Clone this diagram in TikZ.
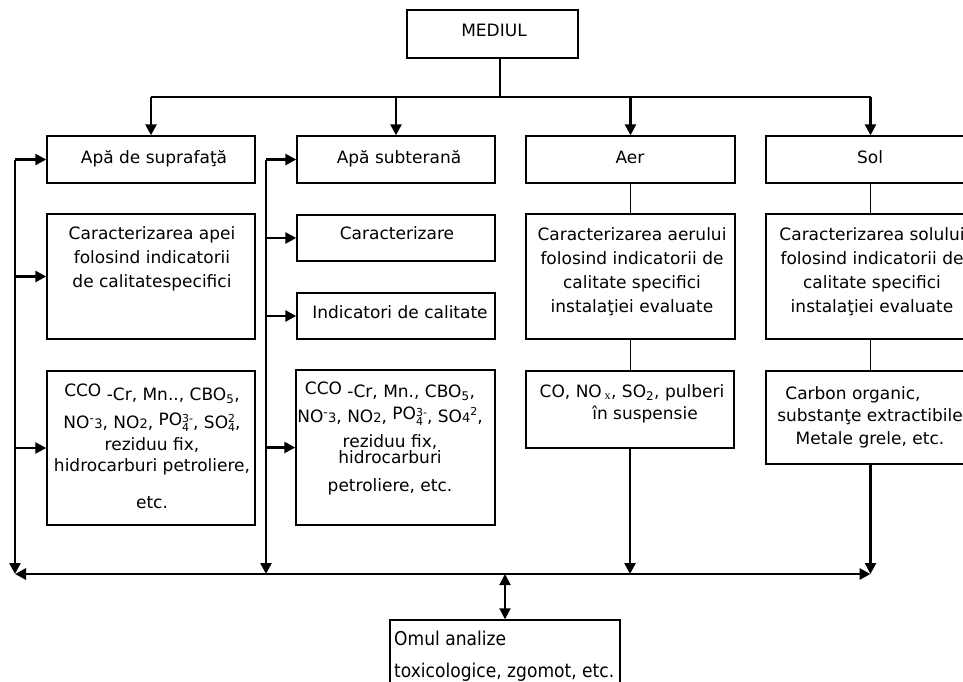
\documentclass[tikz,border=0pt]{standalone}
\usepackage{fontspec}
\setmainfont{DejaVu Sans}
\newfontfamily\omfont{DejaVu Sans}[FakeStretch=0.9]
\newfontfamily\seriffont{Liberation Serif}
\usetikzlibrary{arrows.meta}

% small index figures and a stacked subscript / superscript pair
\newcommand\tinyfig[1]{{\fontsize{11}{11}\selectfont #1}}
\newcommand\subsup[2]{\rlap{\raisebox{-3pt}{\tinyfig{#1}}}\raisebox{6.5pt}{\tinyfig{#2}}}
\newcommand\smallnum[1]{{\fontsize{13}{13}\selectfont #1}}

\tikzset{
  box/.style={draw, line width=1.4pt, rectangle, inner sep=0pt},
  txt/.style={inner sep=0pt, font={\fontsize{17}{24}\selectfont}},
  one/.style={txt, text height=12.4pt, text depth=0pt},
  multi/.style={txt, anchor=north, align=center},
  tip/.tip={Triangle[length=11pt,width=11pt]},
  bus/.style={line width=2.7pt},
  feed/.style={line width=2.5pt, -tip},
  link/.style={line width=1.3pt},
}

\begin{document}
\begin{tikzpicture}[x=1pt,y=-1pt]
\useasboundingbox (0,0) rectangle (963,682);
\clip (0,0) rectangle (963,682);

% ---------- boxes ----------
\node[box, minimum width=171pt, minimum height=48pt] (med) at (492.5,34) {};

\node[box, minimum width=208pt, minimum height=47pt] (s1) at (151,159.5) {};
\node[box, minimum width=198pt, minimum height=47pt] (g1) at (396,159.5) {};
\node[box, minimum width=209pt, minimum height=47pt] (a1) at (630.5,159.5) {};
\node[box, minimum width=209pt, minimum height=47pt] (o1) at (870.5,159.5) {};

\node[box, minimum width=208pt, minimum height=125pt] (s2) at (151,276.5) {};
\node[box, minimum width=198pt, minimum height=46pt] (g2) at (396,238) {};
\node[box, minimum width=198pt, minimum height=46pt] (g3) at (396,316) {};
\node[box, minimum width=209pt, minimum height=125pt] (a2) at (630.5,276.5) {};
\node[box, minimum width=209pt, minimum height=125pt] (o2) at (870.5,276.5) {};

\node[box, minimum width=208pt, minimum height=154pt] (s3) at (151,448) {};
\node[box, minimum width=199pt, minimum height=155pt] (g4) at (395.5,447.5) {};
\node[box, minimum width=208pt, minimum height=77pt] (a3) at (630,409.5) {};
\node[box, minimum width=209pt, minimum height=93pt] (o3) at (870.5,417.5) {};

\node[box, minimum width=230pt, minimum height=75pt] (om) at (505,657.5) {};

% ---------- texts ----------
\node[one] (medt) at (494,30) {MEDIUL};
\node[one] (s1t) at (154,157) {Apă de suprafaţă};
\node[one] (g1t) at (399,157) {Apă subterană};
\node[one] (a1t) at (630,157) {Aer};
\node[one] (o1t) at (870,157) {Sol};

\node[multi] (s2t) at (152,226) {Caracterizarea apei\\folosind indicatorii\\de calitatespecifici};
\node[one] (g2t) at (397,233) {Caracterizare};
\node[one] (g3t) at (400,312) {Indicatori de calitate};
\node[multi] (a2t) at (632,227) {Caracterizarea aerului\\folosind indicatorii de\\calitate specifici\\instalaţiei evaluate};
\node[multi] (o2t) at (872,227) {Caracterizarea solului\\folosind indicatorii de\\calitate specifici\\instalaţiei evaluate};

\node[multi, font={\fontsize{17}{16}\selectfont\lineskiplimit=-100pt}] (s3t) at (152,384)
  {CCO \raisebox{-4pt}{-Cr, Mn.., CBO\textsubscript{5},}\\[16pt]
   NO\textsuperscript{-}\smallnum{3}, NO\smallnum{2}, \raisebox{3pt}{PO}\subsup{4}{3-}, SO\subsup{4}{2},\\[6pt]
   reziduu fix,\\[5pt]
   hidrocarburi petroliere,\\[21pt]
   etc.};
\node[multi, font={\fontsize{17}{16}\selectfont\lineskiplimit=-100pt}] (g4t) at (390,382)
  {CCO \raisebox{-3pt}{-Cr, Mn., CBO\textsubscript{5},}\\[12pt]
   NO\textsuperscript{-}\smallnum{3}, NO\smallnum{2}, \raisebox{3pt}{PO}\subsup{4}{3-}, SO\smallnum{4}\raisebox{7pt}{\tinyfig{2}},\\[9pt]
   reziduu fix,\\
   hidrocarburi\\[12pt]
   petroliere, etc.};
\node[multi, font={\fontsize{17}{22}\selectfont}] (a3t) at (632,384)
  {CO, NO\,\textsubscript{\seriffont x}, SO\textsubscript{2}, pulberi\\\hspace*{26pt}în suspensie};
\node[multi, font={\fontsize{17}{22.5}\selectfont}] (o3t) at (870,386)
  {\hspace*{-34pt}Carbon organic,\\substanţe extractibile\\Metale grele, etc.};

\node[inner sep=0pt, anchor=north west, align=left, font={\omfont\fontsize{19}{32}\selectfont}] (omt) at (394,631)
  {Omul analize\\toxicologice, zgomot, etc.};

% ---------- connectors ----------
\coordinate (hub) at (500,97);
\coordinate (L) at (15,0);
\coordinate (M) at (266,0);
\coordinate (B) at (0,574);
\coordinate (D) at (505,574);

% distribution from MEDIUL
\draw[bus] (med.south -| hub) -- (hub);
\draw[bus] (s1.north |- hub) -- (o1.north |- hub);
\foreach \n in {s1,g1,a1,o1} \draw[feed] (\n.north |- hub) -- (\n.north);

% surface water column
\draw[feed] (s1.west -| L) -- (L |- B);
\foreach \n in {s1,s2,s3} \draw[feed] (\n.west -| L) -- (\n.west);

% ground water column
\draw[feed] (g1.west -| M) -- (M |- B);
\foreach \n in {g1,g2,g3,g4} \draw[feed] (\n.west -| M) -- (\n.west);

% air column
\draw[link] (a1.south) -- (a1.south |- a2.north);
\draw[link] (a2.south) -- (a2.south |- a3.north);
\draw[feed] (a3.south) -- (a3.south |- B);

% soil column
\draw[link] (o1.south) -- (o1.south |- o2.north);
\draw[link] (o2.south) -- (o2.south |- o3.north);
\draw[feed] (o3.south) -- (o3.south |- B);

% collecting line and link to man
\draw[bus, tip-tip] (L |- B) -- (o3.south |- B);
\draw[line width=2pt, tip-tip] (D) -- (om.north);
\end{tikzpicture}
\end{document}
